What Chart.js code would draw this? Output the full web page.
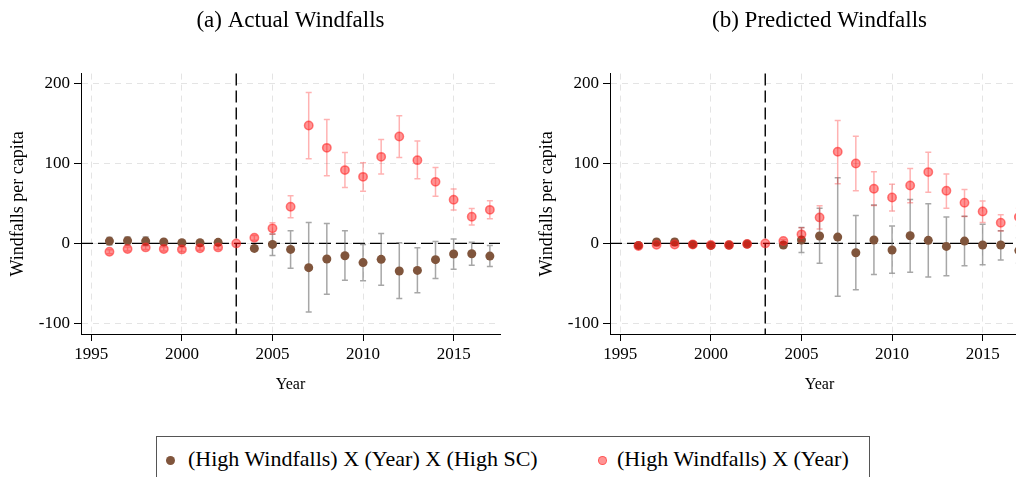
<!DOCTYPE html>
<html>
<head>
<meta charset="utf-8">
<script src="https://cdn.jsdelivr.net/npm/chart.js@4.4.0/dist/chart.umd.min.js"></script>
<style>
  body { margin: 0; background: #fff; overflow: hidden; width: 1016px; height: 477px; position: relative; }
  canvas { position: absolute; top: 0; }
  #chartA { left: 0; }
  #chartB { left: 529px; }
  .legend { position: absolute; left: 156px; top: 436px; width: 712px; height: 44px; border: 1px solid #555;
            font-family: 'Liberation Serif', 'Times New Roman', serif; font-size: 22px; color: #000; }
  .legend span { position: absolute; top: 9px; white-space: nowrap; }
  .dot { position: absolute; width: 9px; height: 9px; border-radius: 50%; top: 19px; box-sizing: border-box; }
</style>
</head>
<body>
<canvas id="chartA" width="530" height="420"></canvas>
<canvas id="chartB" width="530" height="420"></canvas>
<div class="legend">
  <div class="dot" style="left:9px; background:#80553c;"></div>
  <span style="left:31px;">(High Windfalls) X (Year) X (High SC)</span>
  <div class="dot" style="left:441px; background:rgba(255,0,0,0.42); border:1.5px solid rgba(255,40,40,0.6);"></div>
  <span style="left:460px;">(High Windfalls) X (Year)</span>
</div>
<script>
// Years and reference year (dashed vertical line)
const years = [1996, 1997, 1998, 1999, 2000, 2001, 2002, 2003, 2004, 2005, 2006, 2007, 2008, 2009, 2010, 2011, 2012, 2013, 2014, 2015, 2016, 2017];
const treatYear = 2003;
const yearTicks = [1995, 2000, 2005, 2010, 2015];
const valueTicks = [-100, 0, 100, 200];

// (a) Actual windfalls - (High Windfalls) X (Year) X (High SC)
const actualSC     = [2.9, 3.3, 2.9, 1.7, 0.8, 0.8, 1.3, null, -6.3, -1.3, -7.5, -30.4, -19.6, -15.4, -24, -20, -34.6, -33.8, -20.4, -13.3, -13, -15.9];
const actualSCLow  = [-2, -2, -2.5, -1, -1.5, -1.5, -1, null, -9, -15, -31, -86, -63.8, -46, -46.7, -52.5, -69, -61.7, -43.8, -32.5, -27.5, -29];
const actualSCHigh = [7.5, 8, 8, 4.5, 3, 3, 3.5, null, -3.5, 11.7, 15.8, 26.3, 25, 15.8, -1.3, 12.5, 0.8, -5.4, 2.5, 5.4, 1.3, -2.5];
// (a) Actual windfalls - (High Windfalls) X (Year)
const actualBase     = [-10.4, -7, -5, -7, -7.5, -6, -5, 0, 7, 18.8, 45.8, 147.5, 119.6, 91.7, 83.3, 108.3, 133.8, 104.2, 77, 54.6, 33.3, 42];
const actualBaseLow  = [-13, -9.5, -7.5, -9.5, -10, -8.5, -7.5, 0, 4, 11.3, 32, 105.8, 84.6, 70, 65.4, 87, 107.5, 80.8, 59, 41.7, 23, 30.8];
const actualBaseHigh = [-8, -4.5, -2.5, -4.5, -5, -3.5, -2.5, 0, 10, 25.8, 59.6, 188.8, 155, 113.8, 101, 130, 159.6, 128, 95, 68, 43.8, 53.3];

// (b) Predicted windfalls - (High Windfalls) X (Year) X (High SC)
const predSC     = [-2.5, 1.7, 1.7, -1.3, -2.5, -2, -0.8, null, -2, 4.2, 9.2, 7.9, -11.7, 4.2, -8.3, 9.6, 3.8, -3.8, 2.9, -2, -2, -9];
const predSCLow  = [-5, -2, -2, -3, -5, -4, -2.5, null, -5, -11.3, -25, -66, -58, -39, -37.5, -36, -42, -40.4, -28, -26.7, -20.8, -25];
const predSCHigh = [0.5, 5, 5.5, 0.5, 0, 0, 1, null, 1, 20, 44, 82, 35, 48, 21.7, 55, 49.6, 33, 34, 23.8, 15.8, 7];
// (b) Predicted windfalls - (High Windfalls) X (Year)
const predBase     = [-3.3, -1.7, -1.3, -1.3, -2, -2, -0.8, 0, 2.9, 11.3, 32.5, 114.6, 100, 68.3, 57.5, 72.5, 89.2, 65.8, 50.8, 40, 25.8, 33];
const predBaseLow  = [-5, -3.5, -3, -2.5, -3.5, -3.5, -2, 0, 1, 2.9, 18, 74.6, 66, 47.5, 40.4, 50.8, 64, 44, 33.8, 26, 15.4, 22];
const predBaseHigh = [-1.5, 0, 0.5, 0, -0.5, -0.5, 0.4, 0, 5, 19.6, 47, 153.8, 134, 89.6, 74, 93.8, 114, 87, 67.5, 53, 36, 44];

const serif = "'Liberation Serif', 'Times New Roman', serif";
Chart.defaults.color = '#000';
Chart.defaults.font.family = serif;

// draws confidence intervals of each dataset just before its points
const errorBarPlugin = {
    id: 'errorBars',
    beforeDatasetDraw: function(chart, args) {
        const ds = chart.data.datasets[args.index];
        if (!ds.errLow) return;
        const ctx = chart.ctx;
        const xs = chart.scales.x, ys = chart.scales.y;
        ctx.save();
        ctx.strokeStyle = ds.errColor;
        ctx.lineWidth = 1.5;
        years.forEach(function(yr, i) {
            if (ds.errLow[i] === null) return;
            const px = xs.getPixelForValue(yr);
            const lo = ys.getPixelForValue(ds.errLow[i]);
            const hi = ys.getPixelForValue(ds.errHigh[i]);
            ctx.beginPath();
            ctx.moveTo(px, lo); ctx.lineTo(px, hi);
            ctx.moveTo(px - 3, lo); ctx.lineTo(px + 3, lo);
            ctx.moveTo(px - 3, hi); ctx.lineTo(px + 3, hi);
            ctx.stroke();
        });
        ctx.restore();
    }
};

// black dashed zero line and reference year line
const refLinePlugin = {
    id: 'refLines',
    beforeDatasetsDraw: function(chart) {
        const ctx = chart.ctx, area = chart.chartArea;
        const xs = chart.scales.x, ys = chart.scales.y;
        ctx.save();
        ctx.strokeStyle = '#000';
        ctx.lineWidth = 1.4;
        ctx.setLineDash([12, 5]);
        const y0 = ys.getPixelForValue(0);
        ctx.beginPath(); ctx.moveTo(area.left, y0); ctx.lineTo(area.right, y0); ctx.stroke();
        const xT = xs.getPixelForValue(treatYear);
        ctx.beginPath(); ctx.moveTo(xT, area.top); ctx.lineTo(xT, area.bottom); ctx.stroke();
        ctx.restore();
    }
};

function toPoints(values) {
    return years.map(function(yr, i) { return { x: yr, y: values[i] }; });
}

function makeChart(id, title, sc, scLow, scHigh, base, baseLow, baseHigh) {
    return new Chart(document.getElementById(id), {
        type: 'scatter',
        data: {
            datasets: [{
                label: '(High Windfalls) X (Year) X (High SC)',
                data: toPoints(sc),
                errLow: scLow, errHigh: scHigh, errColor: 'rgba(120,120,120,0.65)',
                backgroundColor: '#80553c',
                borderColor: '#80553c',
                borderWidth: 0,
                pointRadius: 4.5,
                order: 2
            }, {
                label: '(High Windfalls) X (Year)',
                data: toPoints(base),
                errLow: baseLow, errHigh: baseHigh, errColor: 'rgba(255,0,0,0.3)',
                backgroundColor: 'rgba(255,0,0,0.42)',
                borderColor: 'rgba(255,40,40,0.6)',
                borderWidth: 1.5,
                pointRadius: 4.2,
                order: 1
            }]
        },
        options: {
            responsive: false,
            animation: false,
            devicePixelRatio: 1,
            layout: { padding: { left: 0, right: 30, top: 0, bottom: 0 } },
            plugins: {
                legend: { display: false },
                tooltip: { enabled: false },
                title: {
                    display: true,
                    text: title,
                    fullSize: false,
                    color: '#000',
                    font: { family: serif, size: 23, weight: 'normal', lineHeight: 1.2 },
                    padding: { top: 7, bottom: 39 }
                }
            },
            scales: {
                x: {
                    type: 'linear',
                    min: 1994.43,
                    max: 2017.56,
                    afterBuildTicks: function(scale) { scale.ticks = yearTicks.map(v => ({ value: v })); },
                    afterFit: function(scale) { scale.height = 86; },
                    ticks: { font: { size: 17 }, padding: 3, callback: v => String(v), maxRotation: 0 },
                    grid: { color: '#e4e4e4', tickColor: '#000', tickLength: 7, tickBorderDash: [] },
                    border: { color: '#000', width: 1, dash: [6, 5] },
                    title: { display: true, text: 'Year', font: { size: 16 }, padding: { top: 0, bottom: 26 } }
                },
                y: {
                    min: -113.4,
                    max: 212.5,
                    afterBuildTicks: function(scale) { scale.ticks = valueTicks.map(v => ({ value: v })); },
                    afterFit: function(scale) { scale.width = 81; },
                    ticks: { font: { size: 17 }, padding: 4 },
                    grid: { color: '#e4e4e4', tickColor: '#000', tickLength: 7, tickBorderDash: [] },
                    border: { color: '#000', width: 1, dash: [6, 5] },
                    title: { display: true, text: 'Windfalls per capita', font: { size: 18 }, padding: { top: 7, bottom: 0 } }
                }
            }
        },
        plugins: [refLinePlugin, errorBarPlugin]
    });
}

makeChart('chartA', '(a) Actual Windfalls', actualSC, actualSCLow, actualSCHigh, actualBase, actualBaseLow, actualBaseHigh);
makeChart('chartB', '(b) Predicted Windfalls', predSC, predSCLow, predSCHigh, predBase, predBaseLow, predBaseHigh);
</script>
</body>
</html>
